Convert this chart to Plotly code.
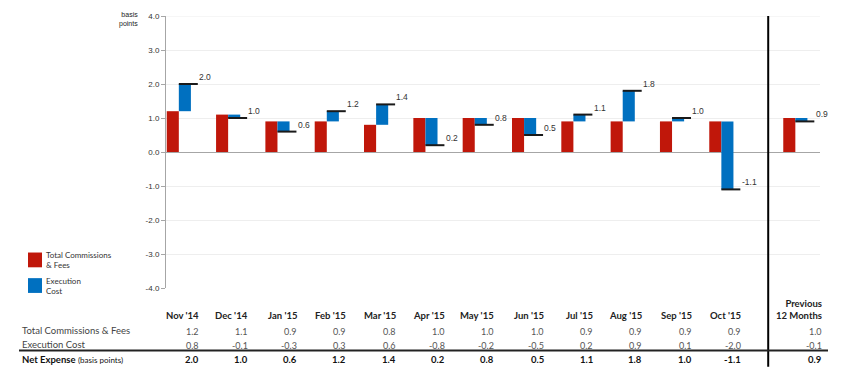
import plotly.graph_objects as go

# ---- data ----
months = ["Nov '14", "Dec '14", "Jan '15", "Feb '15", "Mar '15", "Apr '15", "May '15",
          "Jun '15", "Jul '15", "Aug '15", "Sep '15", "Oct '15", "Previous<br>12 Months"]
commissions = [1.2, 1.1, 0.9, 0.9, 0.8, 1.0, 1.0, 1.0, 0.9, 0.9, 0.9, 0.9, 1.0]
execution = [0.8, -0.1, -0.3, 0.3, 0.6, -0.8, -0.2, -0.5, 0.2, 0.9, 0.1, -2.0, -0.1]
net_expense = [2.0, 1.0, 0.6, 1.2, 1.4, 0.2, 0.8, 0.5, 1.1, 1.8, 1.0, -1.1, 0.9]
y_ticks = [4.0, 3.0, 2.0, 1.0, 0.0, -1.0, -2.0, -3.0, -4.0]

# ---- layout helpers (page body adds an 8px offset) ----
BODY = 8
W, H = 852 - BODY, 375 - BODY
PL, PR, PT, PB = 166, 820, 12, 288          # plot area in page pixels
ML, MR, MT, MB = PL - BODY, 852 - PR, PT - BODY, 375 - PB
PW, PH = PR - PL, PB - PT
XR = [-0.26, 13.0]

def px(p):
    return (p - PL) / PW
def py(p):
    return (PB - p) / PH
def xd(v):
    return (v - XR[0]) / (XR[1] - XR[0])

pos = [i for i in range(12)] + [12.5]
BW = 0.245
RED = "#C0170A"
BLUE = "#0070C0"
TFONT = "Lato"
AFONT = "Liberation Sans"

fig = go.Figure()
fig.add_trace(go.Bar(x=pos, y=commissions, width=BW, offset=-BW,
                     marker=dict(color=RED, line=dict(width=0)),
                     name="Total Commissions & Fees", showlegend=False))
fig.add_trace(go.Bar(x=pos, y=execution, base=commissions, width=BW, offset=0,
                     marker=dict(color=BLUE, line=dict(width=0)),
                     name="Execution Cost", showlegend=False))

# net expense markers (horizontal black segments)
lx, ly = [], []
for p, n in zip(pos, net_expense):
    lx += [p, p + 0.385, None]
    ly += [n, n, None]
fig.add_trace(go.Scatter(x=lx, y=ly, mode="lines", line=dict(color="#1a1a1a", width=2),
                         showlegend=False, hoverinfo="skip"))

annotations = []
for p, n in zip(pos, net_expense):
    annotations.append(dict(x=p + 0.37, y=n, xref="x", yref="y", text=f"{n:.1f}",
                            showarrow=False, xanchor="left", yanchor="middle", yshift=7,
                            font=dict(family=AFONT, size=8.5, color="#333")))

# y-axis caption
annotations.append(dict(x=px(140), y=py(16), xref="paper", yref="paper",
                        text="basis<br>points", showarrow=False, xanchor="right",
                        yanchor="middle", align="right",
                        font=dict(family=AFONT, size=7, color="#222")))

# table
for i, (p, m) in enumerate(zip(pos, months)):
    off = 0.44 if i < 12 else 0.585
    xx = xd(p + off)
    annotations.append(dict(x=xx, y=py(324), xref="paper", yref="paper",
                            text=f"<b>{m}</b>", showarrow=False, xanchor="right",
                            yanchor="bottom", align="right",
                            font=dict(family=TFONT, size=9.5, color="#222")))
    annotations.append(dict(x=xx, y=py(332), xref="paper", yref="paper",
                            text=f"{commissions[i]:.1f}", showarrow=False, xanchor="right",
                            yanchor="middle", font=dict(family=TFONT, size=9, color="#555")))
    annotations.append(dict(x=xx, y=py(346), xref="paper", yref="paper",
                            text=f"{execution[i]:.1f}", showarrow=False, xanchor="right",
                            yanchor="middle", font=dict(family=TFONT, size=9, color="#555")))
    annotations.append(dict(x=xx, y=py(361), xref="paper", yref="paper",
                            text=f"<b>{net_expense[i]:.1f}</b>", showarrow=False, xanchor="right",
                            yanchor="middle", font=dict(family=TFONT, size=9.5, color="#111")))

row_labels = [("Total Commissions &amp; Fees", 331.5, "#444"),
              ("Execution Cost", 345.5, "#444"),
              ("<b>Net Expense</b> <span style='font-size:8px'>(basis points)</span>", 361, "#111")]
for t, yy, c in row_labels:
    annotations.append(dict(x=px(20), y=py(yy), xref="paper", yref="paper", text=t,
                            showarrow=False, xanchor="left", yanchor="middle",
                            font=dict(family=TFONT, size=9.5, color=c)))

# legend (custom)
shapes = []
legend_items = [("Total Commissions<br>&amp; Fees", RED, 252), ("Execution<br>Cost", BLUE, 278)]
for t, c, top in legend_items:
    shapes.append(dict(type="rect", xref="paper", yref="paper", x0=px(28), x1=px(42),
                       y0=py(top + 15), y1=py(top), fillcolor=c, line=dict(width=0)))
    annotations.append(dict(x=px(44), y=py(top + 7.5), xref="paper", yref="paper", text=t,
                            showarrow=False, xanchor="left", yanchor="middle", align="left",
                            font=dict(family=TFONT, size=8, color="#333")))

# separator lines
shapes.append(dict(type="line", xref="x", yref="paper", x0=11.95, x1=11.95,
                   y0=py(368), y1=py(12), line=dict(color="#000", width=2)))
shapes.append(dict(type="line", xref="paper", yref="paper", x0=px(19), x1=px(828),
                   y0=py(351.5), y1=py(351.5), line=dict(color="#222", width=2)))
# top grid line at 4.0 (sits on the plot edge)
shapes.append(dict(type="line", xref="paper", yref="y", x0=0, x1=1, y0=4, y1=4,
                   line=dict(color="#EEEEEE", width=1), layer="below"))

fig.update_layout(
    width=W, height=H, margin=dict(l=ML, r=MR, t=MT, b=MB, pad=0),
    paper_bgcolor="white", plot_bgcolor="white", barmode="overlay",
    showlegend=False, annotations=annotations, shapes=shapes,
    xaxis=dict(range=XR, showticklabels=False, showgrid=False,
               zeroline=False, showline=False, ticks="", fixedrange=True),
    yaxis=dict(range=[-4, 4], tickvals=y_ticks, ticktext=[f"{v:.1f}" for v in y_ticks],
               showgrid=True, gridcolor="#EEEEEE", gridwidth=1,
               zeroline=True, zerolinecolor="#A6A6A6", zerolinewidth=1,
               showline=True, linecolor="#A6A6A6", linewidth=1,
               ticks="outside", ticklen=4, tickcolor="#A6A6A6",
               ticklabeloverflow="allow",
               tickfont=dict(family=AFONT, size=8, color="#333"), fixedrange=True),
)

fig.write_html("out.html")
